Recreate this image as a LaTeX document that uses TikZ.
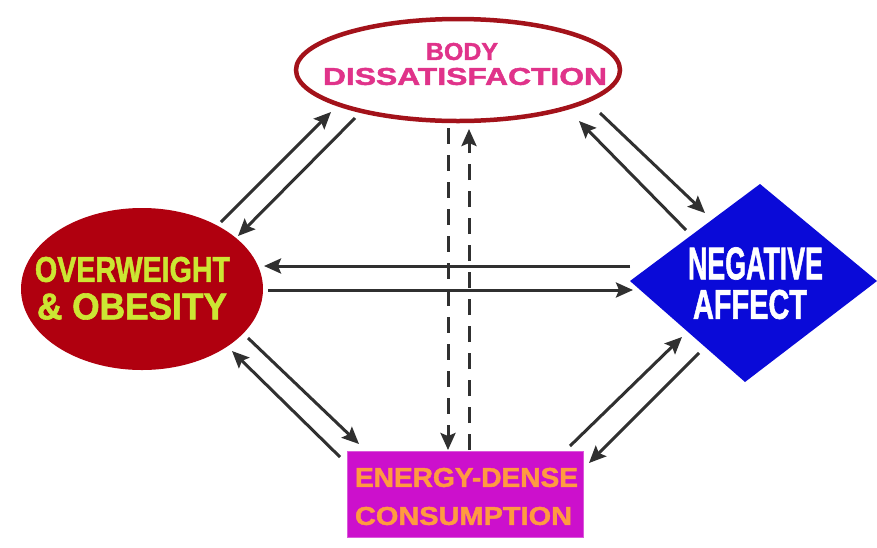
\documentclass[tikz,border=0pt]{standalone}
\usepackage{fontspec}
\setmainfont{Liberation Sans}
\newfontfamily\heavyfont[FakeBold=1.6]{Liberation Sans Bold}
\usepackage{graphicx}
\usetikzlibrary{shapes.geometric,arrows.meta}
\definecolor{bodyred}{HTML}{A3121A}
\definecolor{bodytext}{HTML}{E0338A}
\definecolor{owfill}{HTML}{B0000F}
\definecolor{owtext}{HTML}{CCE633}
\definecolor{nafill}{HTML}{0A0AD8}
\definecolor{edfill}{HTML}{CC10CC}
\definecolor{edtext}{HTML}{FF9A40}
\definecolor{arrowgray}{HTML}{303030}
\newcommand{\fitline}[3]{\resizebox{#1pt}{#2pt}{\heavyfont #3}}
\tikzset{
  conn/.style={draw=arrowgray, line width=3pt, -{Stealth[length=17pt,width=15pt,inset=3pt]}},
  dconn/.style={conn, dash pattern=on 16pt off 11pt},
  lbl/.style={inner sep=0pt, anchor=center},
}
\begin{document}
\begin{tikzpicture}[x=1pt,y=-1pt]
\useasboundingbox (0,0) rectangle (877,547);
\fill[white] (0,0) rectangle (877,547);
% shapes
\node[ellipse, draw=bodyred, fill=white, line width=4.5pt, minimum width=324pt, minimum height=102pt, inner sep=0pt] (body) at (458,70) {};
\node[ellipse, fill=owfill, minimum width=242pt, minimum height=162pt, inner sep=0pt] (ow) at (142,289) {};
\fill[nafill] (760,184) -- (877,281) -- (745,382) -- (630,281) -- cycle;
\coordinate (na) at (754,283);
\node[rectangle, fill=edfill, draw=edfill!70!white, line width=0.8pt, minimum width=236pt, minimum height=86pt, inner sep=0pt] (ed) at (465,494) {};
% labels
\node[lbl, text=bodytext] (t1) at (462,51.5) {\fitline{72}{17}{BODY}};
\node[lbl, text=bodytext] (t2) at (465,76.5) {\fitline{284}{17}{DISSATISFACTION}};
\node[lbl, text=owtext] (t3) at (132.5,269.5) {\fitline{195}{25}{OVERWEIGHT}};
\node[lbl, text=owtext] (t4) at (132,306.5) {\fitline{190}{26}{\&\ OBESITY}};
\node[lbl, text=white] (t5) at (755.5,263.5) {\fitline{135}{32}{NEGATIVE}};
\node[lbl, text=white] (t6) at (750,304.5) {\fitline{114}{29}{AFFECT}};
\node[lbl, text=edtext] (t7) at (466.5,477.5) {\fitline{223}{19}{ENERGY-DENSE}};
\node[lbl, text=edtext] (t8) at (463.5,516) {\fitline{217}{18}{CONSUMPTION}};
% connector end points
\coordinate (owB1) at (221,222); \coordinate (bOW1) at (331,112);
\coordinate (bOW2) at (355,118); \coordinate (owB2) at (238,236);
\coordinate (bN1) at (600,113);  \coordinate (nB1) at (705,213);
\coordinate (nB2) at (686,230);  \coordinate (bN2) at (579,121);
\coordinate (nOW1) at (630,266); \coordinate (owN1) at (264,266);
\coordinate (owN2) at (268,290); \coordinate (nOW2) at (633,290);
\coordinate (owE1) at (248,338); \coordinate (eOW1) at (359,444);
\coordinate (eOW2) at (340,457); \coordinate (owE2) at (232,351);
\coordinate (eN1) at (570,446);  \coordinate (nE1) at (682,337);
\coordinate (nE2) at (699,353);  \coordinate (eN2) at (589,463);
\coordinate (bE1) at (448,128);  \coordinate (eB1) at (448,450);
\coordinate (eB2) at (469,450);  \coordinate (bE2) at (469,129);
% connectors
\draw[conn] (owB1) -- (bOW1);
\draw[conn] (bOW2) -- (owB2);
\draw[conn] (bN1) -- (nB1);
\draw[conn] (nB2) -- (bN2);
\draw[conn] (nOW1) -- (owN1);
\draw[conn] (owN2) -- (nOW2);
\draw[conn] (owE1) -- (eOW1);
\draw[conn] (eOW2) -- (owE2);
\draw[conn] (eN1) -- (nE1);
\draw[conn] (nE2) -- (eN2);
\draw[dconn] (bE1) -- (eB1);
\draw[dconn] (eB2) -- (bE2);
\end{tikzpicture}
\end{document}
